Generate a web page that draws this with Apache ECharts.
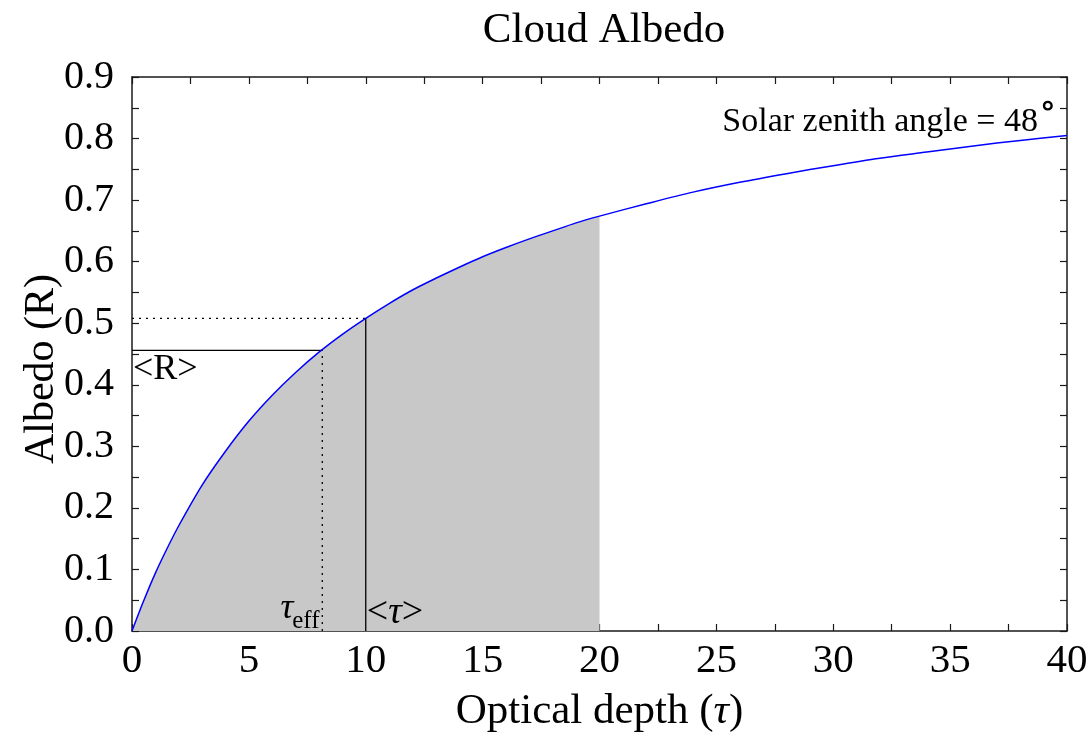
<!DOCTYPE html>
<html>
<head>
<meta charset="utf-8">
<title>Cloud Albedo</title>
<script src="https://cdn.jsdelivr.net/npm/echarts@6/dist/echarts.min.js"></script>
<style>
  html, body { margin: 0; padding: 0; background: #ffffff; }
  #chart { width: 1092px; height: 738px; }
</style>
</head>
<body>
<div id="chart"></div>
<script>
// Optical depth samples and the albedo of the cloud at each of them
const tau = [0, 0.5, 1, 1.5, 2, 3, 4, 5, 6, 7, 8, 9, 10, 11, 12, 13, 14, 15, 16, 17, 18, 19, 20,
             22, 24, 26, 28, 30, 32, 34, 36, 38, 40];
const albedo = [0, 0.049, 0.094, 0.134, 0.171, 0.237, 0.292, 0.341, 0.383, 0.420, 0.453, 0.482, 0.508,
                0.532, 0.554, 0.573, 0.591, 0.608, 0.623, 0.637, 0.650, 0.663, 0.674,
                0.694, 0.713, 0.729, 0.743, 0.756, 0.768, 0.778, 0.788, 0.797, 0.805];

// Range of optical depths covered by the shaded distribution
const shadeEnd = 20;

// Mean optical depth and the albedo it gives
const meanTau = 10;
const meanAlbedo = 0.508;
// Mean albedo and the effective optical depth that gives it
const effTau = 8.14;
const effAlbedo = 0.456;

// Axis ticks
const xTicks = { min: 0, max: 40, step: 5 };
const yTicks = { min: 0, max: 0.9, step: 0.1 };

const FONT = '"Liberation Serif", "DejaVu Serif", serif';

const curve = tau.map((t, i) => [t, albedo[i]]);
const shaded = curve.filter(p => p[0] <= shadeEnd);

const chart = echarts.init(document.getElementById('chart'), null, { renderer: 'canvas' });

const axisLineStyle = { color: '#1a1a1a', width: 1.5 };
const tickStyle = { color: '#1a1a1a', width: 1.2 };

function xAxisDef(pos, showLabel) {
  return {
    type: 'value',
    position: pos,
    min: xTicks.min, max: xTicks.max, interval: xTicks.step,
    axisLine: { show: true, onZero: false, lineStyle: axisLineStyle },
    axisTick: { show: true, inside: true, length: 7, lineStyle: tickStyle },
    minorTick: { show: true, splitNumber: 2, length: 7, lineStyle: tickStyle },
    splitLine: { show: false },
    axisLabel: {
      show: showLabel, margin: 10, color: '#000', fontFamily: FONT, fontSize: 41
    },
    name: showLabel ? '{r|Optical depth (}{i|τ}{r|)}' : '',
    nameLocation: 'middle',
    nameGap: 59,
    nameTextStyle: {
      rich: {
        r: { color: '#000', fontFamily: FONT, fontSize: 43 },
        i: { color: '#000', fontFamily: FONT, fontSize: 43, fontStyle: 'italic' }
      }
    }
  };
}

function yAxisDef(pos, showLabel) {
  return {
    type: 'value',
    position: pos,
    min: yTicks.min, max: yTicks.max, interval: yTicks.step,
    axisLine: { show: true, onZero: false, lineStyle: axisLineStyle },
    axisTick: { show: true, inside: true, length: 7, lineStyle: tickStyle },
    minorTick: { show: true, splitNumber: 2, length: 7, lineStyle: tickStyle },
    splitLine: { show: false },
    axisLabel: {
      show: showLabel, margin: 18, color: '#000', fontFamily: FONT, fontSize: 40,
      formatter: v => v.toFixed(1)
    }
  };
}

function refLine(points, dotted) {
  return {
    type: 'line',
    data: points,
    symbol: 'none',
    silent: true,
    z: 4,
    lineStyle: { color: '#000', width: 1.3, type: dotted ? [2, 5] : 'solid' }
  };
}

chart.setOption({
  animation: false,
  backgroundColor: '#ffffff',
  title: {
    text: 'Cloud Albedo',
    left: 599, top: 4, textAlign: 'center',
    textStyle: { fontFamily: FONT, fontSize: 43, fontWeight: 'normal', color: '#000' }
  },
  grid: { left: 132, right: 25, top: 77, bottom: 100, containLabel: false },
  xAxis: [xAxisDef('bottom', true), xAxisDef('top', false)],
  yAxis: [yAxisDef('left', true), yAxisDef('right', false)],
  series: [
    {
      // shaded region under the curve up to the end of the distribution
      type: 'line',
      data: shaded,
      symbol: 'none',
      smooth: 0.3,
      silent: true,
      z: 1,
      lineStyle: { opacity: 0 },
      areaStyle: { color: '#c8c8c8', opacity: 1 }
    },
    refLine([[0, meanAlbedo], [meanTau, meanAlbedo]], true),
    refLine([[meanTau, 0], [meanTau, meanAlbedo]], false),
    refLine([[0, effAlbedo], [effTau, effAlbedo]], false),
    refLine([[effTau, 0], [effTau, effAlbedo]], true),
    {
      type: 'line',
      data: curve,
      symbol: 'none',
      smooth: 0.3,
      silent: true,
      z: 5,
      lineStyle: { color: '#0000ff', width: 1.5 }
    }
  ]
});

// Annotations anchored to data coordinates
const px = (x, y) => chart.convertToPixel({ xAxisIndex: 0, yAxisIndex: 0 }, [x, y]);
const pR = px(0, effAlbedo);
const pEff = px(effTau, 0);
const pMean = px(meanTau, 0);
const pMid = px(0, (yTicks.min + yTicks.max) / 2);

const txt = (x, y, text, opts) => Object.assign({
  type: 'text', x: x, y: y, silent: true, z: 10,
  style: Object.assign({ text: text, fill: '#000', font: '30px ' + FONT }, opts || {})
});

chart.setOption({
  graphic: [
    // y-axis title
    {
      type: 'text', x: 42, y: pMid[1] + 15, rotation: Math.PI / 2, silent: true,
      style: { text: 'Albedo (R)', fill: '#000', font: '42px ' + FONT, align: 'center', verticalAlign: 'middle' }
    },
    txt(pR[0] + 1, pR[1] + 1, '<R>', { align: 'left', verticalAlign: 'top', font: '36px ' + FONT }),
    txt(pEff[0] - 29, pEff[1] - 4, 'τ', { align: 'right', verticalAlign: 'bottom', font: 'italic 36px ' + FONT }),
    txt(pEff[0] - 30, pEff[1] + 3, 'eff', { align: 'left', verticalAlign: 'bottom', font: '25px ' + FONT }),
    {
      type: 'text', x: pMean[0] + 1, y: pMean[1] + 1, silent: true, z: 10,
      style: {
        text: '{a|<}{t|τ}{a|>}', align: 'left', verticalAlign: 'bottom',
        rich: {
          a: { fontFamily: FONT, fontSize: 38, fill: '#000' },
          t: { fontFamily: FONT, fontSize: 38, fontStyle: 'italic', fill: '#000' }
        }
      }
    },
    txt(1038, 122, 'Solar zenith angle = 48', { align: 'right', verticalAlign: 'middle', font: '34px ' + FONT }),
    txt(1039, 108, '∘', { align: 'left', verticalAlign: 'middle', font: '36px ' + FONT })
  ]
});
</script>
</body>
</html>
